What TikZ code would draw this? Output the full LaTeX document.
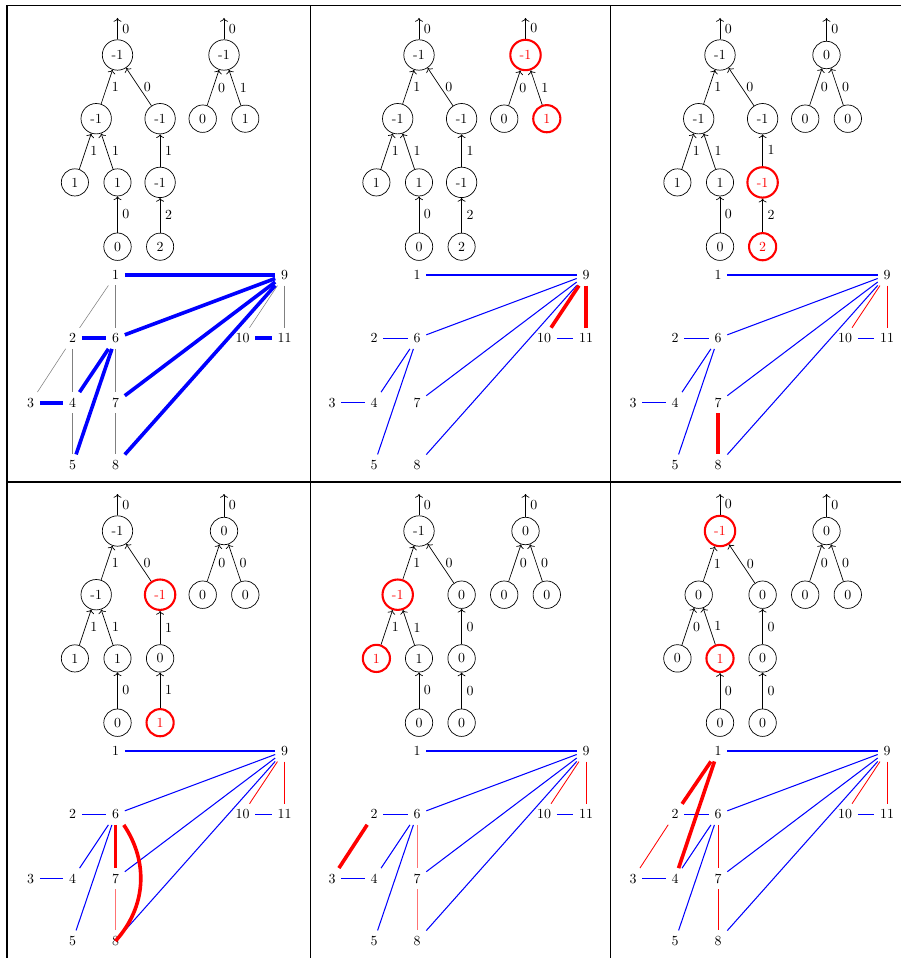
\documentclass[tikz,border=0pt]{standalone}
\usepackage{xcolor}
\usepackage{tikz}
\usetikzlibrary{arrows.meta,positioning}

\begin{document}
\begin{tikzpicture}[x=0.72pt,y=-0.72pt,
  vx/.style={circle,draw,inner sep=4pt,line width=.5pt},
  hot/.style={vx,draw=red,text=red,line width=1.5pt},
  lab/.style={inner sep=4pt},
  tarr/.style={->,line width=.5pt},
  eg/.style={gray,line width=.4pt},
  eb/.style={blue,line width=.75pt},
  ebb/.style={blue,line width=2.6pt},
  er/.style={red,line width=.6pt},
  ep/.style={red!55,line width=.7pt},
  err/.style={red,line width=2.6pt},
  frame/.style={black,line width=1.1pt}]
\useasboundingbox (0,0) rectangle (901,958);
\draw[frame] (7,5.5)--(901,5.5);
\draw[frame] (7,482)--(901,482);
\draw[frame] (7,5.5)--(7,958);
\draw[frame] (310.5,5.5)--(310.5,958);
\draw[frame] (610.5,5.5)--(610.5,958);
% panel 1
\begin{scope}[shift={(117.5,55)},name prefix=p1]
\node[vx] (a0) at (0,0) {-1};
\node[vx] (a1) at (-21.3,63.7) {-1};
\node[vx] (a2) at (42.6,63.7) {-1};
\node[vx] (a3) at (-42.6,127.4) {1};
\node[vx] (a4) at (0,127.4) {1};
\node[vx] (a5) at (42.6,127.4) {-1};
\node[vx] (a6) at (0,191.7) {0};
\node[vx] (a7) at (42.6,191.7) {2};
\coordinate (at) at (0,-37);
\draw[tarr] (a0)--(at) node[midway,right] {0};
\draw[tarr] (a1)--(a0) node[midway,right] {1};
\draw[tarr] (a2)--(a0) node[midway,right] {0};
\draw[tarr] (a3)--(a1) node[midway,right] {1};
\draw[tarr] (a4)--(a1) node[midway,right] {1};
\draw[tarr] (a5)--(a2) node[midway,right] {1};
\draw[tarr] (a6)--(a4) node[midway,right] {0};
\draw[tarr] (a7)--(a5) node[midway,right] {2};
\node[vx] (b0) at (106.5,0) {-1};
\node[vx] (b1) at (85.2,63.7) {0};
\node[vx] (b2) at (127.8,63.7) {1};
\coordinate (bt) at (106.5,-37);
\draw[tarr] (b0)--(bt) node[midway,right] {0};
\draw[tarr] (b1)--(b0) node[midway,right] {0};
\draw[tarr] (b2)--(b0) node[midway,right] {1};
\node[lab] (v1) at (-2,220) {1};
\node[lab] (v9) at (167,220) {9};
\node[lab] (v2) at (-45,283.3) {2};
\node[lab] (v6) at (-2,283.3) {6};
\node[lab] (v10) at (125,283.3) {10};
\node[lab] (v11) at (167,283.3) {11};
\node[lab] (v3) at (-87,347.7) {3};
\node[lab] (v4) at (-45,347.7) {4};
\node[lab] (v7) at (-2,347.7) {7};
\node[lab] (v5) at (-45,410) {5};
\node[lab] (v8) at (-2,410) {8};
\draw[eg] (v1)--(v2);
\draw[eg] (v1)--(v6);
\draw[eg] (v2)--(v3);
\draw[eg] (v2)--(v4);
\draw[eg] (v4)--(v5);
\draw[eg] (v6)--(v7);
\draw[eg] (v7)--(v8);
\draw[eg] (v9)--(v10);
\draw[eg] (v9)--(v11);
\draw[ebb] (v1)--(v9);
\draw[ebb] (v2)--(v6);
\draw[ebb] (v6)--(v9);
\draw[ebb] (v6)--(v4);
\draw[ebb] (v6)--(v5);
\draw[ebb] (v7)--(v9);
\draw[ebb] (v8)--(v9);
\draw[ebb] (v3)--(v4);
\draw[ebb] (v10)--(v11);
\end{scope}
% panel 2
\begin{scope}[shift={(419,55)},name prefix=p2]
\node[vx] (a0) at (0,0) {-1};
\node[vx] (a1) at (-21.3,63.7) {-1};
\node[vx] (a2) at (42.6,63.7) {-1};
\node[vx] (a3) at (-42.6,127.4) {1};
\node[vx] (a4) at (0,127.4) {1};
\node[vx] (a5) at (42.6,127.4) {-1};
\node[vx] (a6) at (0,191.7) {0};
\node[vx] (a7) at (42.6,191.7) {2};
\coordinate (at) at (0,-37);
\draw[tarr] (a0)--(at) node[midway,right] {0};
\draw[tarr] (a1)--(a0) node[midway,right] {1};
\draw[tarr] (a2)--(a0) node[midway,right] {0};
\draw[tarr] (a3)--(a1) node[midway,right] {1};
\draw[tarr] (a4)--(a1) node[midway,right] {1};
\draw[tarr] (a5)--(a2) node[midway,right] {1};
\draw[tarr] (a6)--(a4) node[midway,right] {0};
\draw[tarr] (a7)--(a5) node[midway,right] {2};
\node[hot] (b0) at (106.5,0) {-1};
\node[vx] (b1) at (85.2,63.7) {0};
\node[hot] (b2) at (127.8,63.7) {1};
\coordinate (bt) at (106.5,-37);
\draw[tarr] (b0)--(bt) node[midway,right] {0};
\draw[tarr] (b1)--(b0) node[midway,right] {0};
\draw[tarr] (b2)--(b0) node[midway,right] {1};
\node[lab] (v1) at (-2,220) {1};
\node[lab] (v9) at (167,220) {9};
\node[lab] (v2) at (-45,283.3) {2};
\node[lab] (v6) at (-2,283.3) {6};
\node[lab] (v10) at (125,283.3) {10};
\node[lab] (v11) at (167,283.3) {11};
\node[lab] (v3) at (-87,347.7) {3};
\node[lab] (v4) at (-45,347.7) {4};
\node[lab] (v7) at (-2,347.7) {7};
\node[lab] (v5) at (-45,410) {5};
\node[lab] (v8) at (-2,410) {8};
\draw[eb] (v1)--(v9);
\draw[eb] (v2)--(v6);
\draw[eb] (v6)--(v9);
\draw[eb] (v6)--(v4);
\draw[eb] (v6)--(v5);
\draw[eb] (v7)--(v9);
\draw[eb] (v8)--(v9);
\draw[eb] (v3)--(v4);
\draw[eb] (v10)--(v11);
\draw[err] (v9)--(v10);
\draw[err] (v9)--(v11);
\end{scope}
% panel 3
\begin{scope}[shift={(720,55)},name prefix=p3]
\node[vx] (a0) at (0,0) {-1};
\node[vx] (a1) at (-21.3,63.7) {-1};
\node[vx] (a2) at (42.6,63.7) {-1};
\node[vx] (a3) at (-42.6,127.4) {1};
\node[vx] (a4) at (0,127.4) {1};
\node[hot] (a5) at (42.6,127.4) {-1};
\node[vx] (a6) at (0,191.7) {0};
\node[hot] (a7) at (42.6,191.7) {2};
\coordinate (at) at (0,-37);
\draw[tarr] (a0)--(at) node[midway,right] {0};
\draw[tarr] (a1)--(a0) node[midway,right] {1};
\draw[tarr] (a2)--(a0) node[midway,right] {0};
\draw[tarr] (a3)--(a1) node[midway,right] {1};
\draw[tarr] (a4)--(a1) node[midway,right] {1};
\draw[tarr] (a5)--(a2) node[midway,right] {1};
\draw[tarr] (a6)--(a4) node[midway,right] {0};
\draw[tarr] (a7)--(a5) node[midway,right] {2};
\node[vx] (b0) at (106.5,0) {0};
\node[vx] (b1) at (85.2,63.7) {0};
\node[vx] (b2) at (127.8,63.7) {0};
\coordinate (bt) at (106.5,-37);
\draw[tarr] (b0)--(bt) node[midway,right] {0};
\draw[tarr] (b1)--(b0) node[midway,right] {0};
\draw[tarr] (b2)--(b0) node[midway,right] {0};
\node[lab] (v1) at (-2,220) {1};
\node[lab] (v9) at (167,220) {9};
\node[lab] (v2) at (-45,283.3) {2};
\node[lab] (v6) at (-2,283.3) {6};
\node[lab] (v10) at (125,283.3) {10};
\node[lab] (v11) at (167,283.3) {11};
\node[lab] (v3) at (-87,347.7) {3};
\node[lab] (v4) at (-45,347.7) {4};
\node[lab] (v7) at (-2,347.7) {7};
\node[lab] (v5) at (-45,410) {5};
\node[lab] (v8) at (-2,410) {8};
\draw[eb] (v1)--(v9);
\draw[eb] (v2)--(v6);
\draw[eb] (v6)--(v9);
\draw[eb] (v6)--(v4);
\draw[eb] (v6)--(v5);
\draw[eb] (v7)--(v9);
\draw[eb] (v8)--(v9);
\draw[eb] (v3)--(v4);
\draw[eb] (v10)--(v11);
\draw[er] (v9)--(v10);
\draw[er] (v9)--(v11);
\draw[err] (v7)--(v8);
\end{scope}
% panel 4
\begin{scope}[shift={(117.5,531)},name prefix=p4]
\node[vx] (a0) at (0,0) {-1};
\node[vx] (a1) at (-21.3,63.7) {-1};
\node[hot] (a2) at (42.6,63.7) {-1};
\node[vx] (a3) at (-42.6,127.4) {1};
\node[vx] (a4) at (0,127.4) {1};
\node[vx] (a5) at (42.6,127.4) {0};
\node[vx] (a6) at (0,191.7) {0};
\node[hot] (a7) at (42.6,191.7) {1};
\coordinate (at) at (0,-37);
\draw[tarr] (a0)--(at) node[midway,right] {0};
\draw[tarr] (a1)--(a0) node[midway,right] {1};
\draw[tarr] (a2)--(a0) node[midway,right] {0};
\draw[tarr] (a3)--(a1) node[midway,right] {1};
\draw[tarr] (a4)--(a1) node[midway,right] {1};
\draw[tarr] (a5)--(a2) node[midway,right] {1};
\draw[tarr] (a6)--(a4) node[midway,right] {0};
\draw[tarr] (a7)--(a5) node[midway,right] {1};
\node[vx] (b0) at (106.5,0) {0};
\node[vx] (b1) at (85.2,63.7) {0};
\node[vx] (b2) at (127.8,63.7) {0};
\coordinate (bt) at (106.5,-37);
\draw[tarr] (b0)--(bt) node[midway,right] {0};
\draw[tarr] (b1)--(b0) node[midway,right] {0};
\draw[tarr] (b2)--(b0) node[midway,right] {0};
\node[lab] (v1) at (-2,220) {1};
\node[lab] (v9) at (167,220) {9};
\node[lab] (v2) at (-45,283.3) {2};
\node[lab] (v6) at (-2,283.3) {6};
\node[lab] (v10) at (125,283.3) {10};
\node[lab] (v11) at (167,283.3) {11};
\node[lab] (v3) at (-87,347.7) {3};
\node[lab] (v4) at (-45,347.7) {4};
\node[lab] (v7) at (-2,347.7) {7};
\node[lab] (v5) at (-45,410) {5};
\node[lab] (v8) at (-2,410) {8};
\draw[eb] (v1)--(v9);
\draw[eb] (v2)--(v6);
\draw[eb] (v6)--(v9);
\draw[eb] (v6)--(v4);
\draw[eb] (v6)--(v5);
\draw[eb] (v7)--(v9);
\draw[eb] (v8)--(v9);
\draw[eb] (v3)--(v4);
\draw[eb] (v10)--(v11);
\draw[er] (v9)--(v10);
\draw[er] (v9)--(v11);
\draw[ep] (v7)--(v8);
\draw[err] (v6)--(v7);
\draw[err] (v6) to[bend left=38] (v8);
\end{scope}
% panel 5
\begin{scope}[shift={(419,531)},name prefix=p5]
\node[vx] (a0) at (0,0) {-1};
\node[hot] (a1) at (-21.3,63.7) {-1};
\node[vx] (a2) at (42.6,63.7) {0};
\node[hot] (a3) at (-42.6,127.4) {1};
\node[vx] (a4) at (0,127.4) {1};
\node[vx] (a5) at (42.6,127.4) {0};
\node[vx] (a6) at (0,191.7) {0};
\node[vx] (a7) at (42.6,191.7) {0};
\coordinate (at) at (0,-37);
\draw[tarr] (a0)--(at) node[midway,right] {0};
\draw[tarr] (a1)--(a0) node[midway,right] {1};
\draw[tarr] (a2)--(a0) node[midway,right] {0};
\draw[tarr] (a3)--(a1) node[midway,right] {1};
\draw[tarr] (a4)--(a1) node[midway,right] {1};
\draw[tarr] (a5)--(a2) node[midway,right] {0};
\draw[tarr] (a6)--(a4) node[midway,right] {0};
\draw[tarr] (a7)--(a5) node[midway,right] {0};
\node[vx] (b0) at (106.5,0) {0};
\node[vx] (b1) at (85.2,63.7) {0};
\node[vx] (b2) at (127.8,63.7) {0};
\coordinate (bt) at (106.5,-37);
\draw[tarr] (b0)--(bt) node[midway,right] {0};
\draw[tarr] (b1)--(b0) node[midway,right] {0};
\draw[tarr] (b2)--(b0) node[midway,right] {0};
\node[lab] (v1) at (-2,220) {1};
\node[lab] (v9) at (167,220) {9};
\node[lab] (v2) at (-45,283.3) {2};
\node[lab] (v6) at (-2,283.3) {6};
\node[lab] (v10) at (125,283.3) {10};
\node[lab] (v11) at (167,283.3) {11};
\node[lab] (v3) at (-87,347.7) {3};
\node[lab] (v4) at (-45,347.7) {4};
\node[lab] (v7) at (-2,347.7) {7};
\node[lab] (v5) at (-45,410) {5};
\node[lab] (v8) at (-2,410) {8};
\draw[eb] (v1)--(v9);
\draw[eb] (v2)--(v6);
\draw[eb] (v6)--(v9);
\draw[eb] (v6)--(v4);
\draw[eb] (v6)--(v5);
\draw[eb] (v7)--(v9);
\draw[eb] (v8)--(v9);
\draw[eb] (v3)--(v4);
\draw[eb] (v10)--(v11);
\draw[er] (v9)--(v10);
\draw[er] (v9)--(v11);
\draw[ep] (v6)--(v7);
\draw[ep] (v7)--(v8);
\draw[err] (v2)--(v3);
\end{scope}
% panel 6
\begin{scope}[shift={(720,531)},name prefix=p6]
\node[hot] (a0) at (0,0) {-1};
\node[vx] (a1) at (-21.3,63.7) {0};
\node[vx] (a2) at (42.6,63.7) {0};
\node[vx] (a3) at (-42.6,127.4) {0};
\node[hot] (a4) at (0,127.4) {1};
\node[vx] (a5) at (42.6,127.4) {0};
\node[vx] (a6) at (0,191.7) {0};
\node[vx] (a7) at (42.6,191.7) {0};
\coordinate (at) at (0,-37);
\draw[tarr] (a0)--(at) node[midway,right] {0};
\draw[tarr] (a1)--(a0) node[midway,right] {1};
\draw[tarr] (a2)--(a0) node[midway,right] {0};
\draw[tarr] (a3)--(a1) node[midway,right] {0};
\draw[tarr] (a4)--(a1) node[midway,right] {1};
\draw[tarr] (a5)--(a2) node[midway,right] {0};
\draw[tarr] (a6)--(a4) node[midway,right] {0};
\draw[tarr] (a7)--(a5) node[midway,right] {0};
\node[vx] (b0) at (106.5,0) {0};
\node[vx] (b1) at (85.2,63.7) {0};
\node[vx] (b2) at (127.8,63.7) {0};
\coordinate (bt) at (106.5,-37);
\draw[tarr] (b0)--(bt) node[midway,right] {0};
\draw[tarr] (b1)--(b0) node[midway,right] {0};
\draw[tarr] (b2)--(b0) node[midway,right] {0};
\node[lab] (v1) at (-2,220) {1};
\node[lab] (v9) at (167,220) {9};
\node[lab] (v2) at (-45,283.3) {2};
\node[lab] (v6) at (-2,283.3) {6};
\node[lab] (v10) at (125,283.3) {10};
\node[lab] (v11) at (167,283.3) {11};
\node[lab] (v3) at (-87,347.7) {3};
\node[lab] (v4) at (-45,347.7) {4};
\node[lab] (v7) at (-2,347.7) {7};
\node[lab] (v5) at (-45,410) {5};
\node[lab] (v8) at (-2,410) {8};
\draw[eb] (v1)--(v9);
\draw[eb] (v2)--(v6);
\draw[eb] (v6)--(v9);
\draw[eb] (v6)--(v4);
\draw[eb] (v6)--(v5);
\draw[eb] (v7)--(v9);
\draw[eb] (v8)--(v9);
\draw[eb] (v3)--(v4);
\draw[eb] (v10)--(v11);
\draw[er] (v9)--(v10);
\draw[er] (v9)--(v11);
\draw[er] (v2)--(v3);
\draw[er] (v6)--(v7);
\draw[er] (v7)--(v8);
\draw[err] (v1)--(v2);
\draw[err] (v1)--(v4);
\end{scope}
\end{tikzpicture}
\end{document}
